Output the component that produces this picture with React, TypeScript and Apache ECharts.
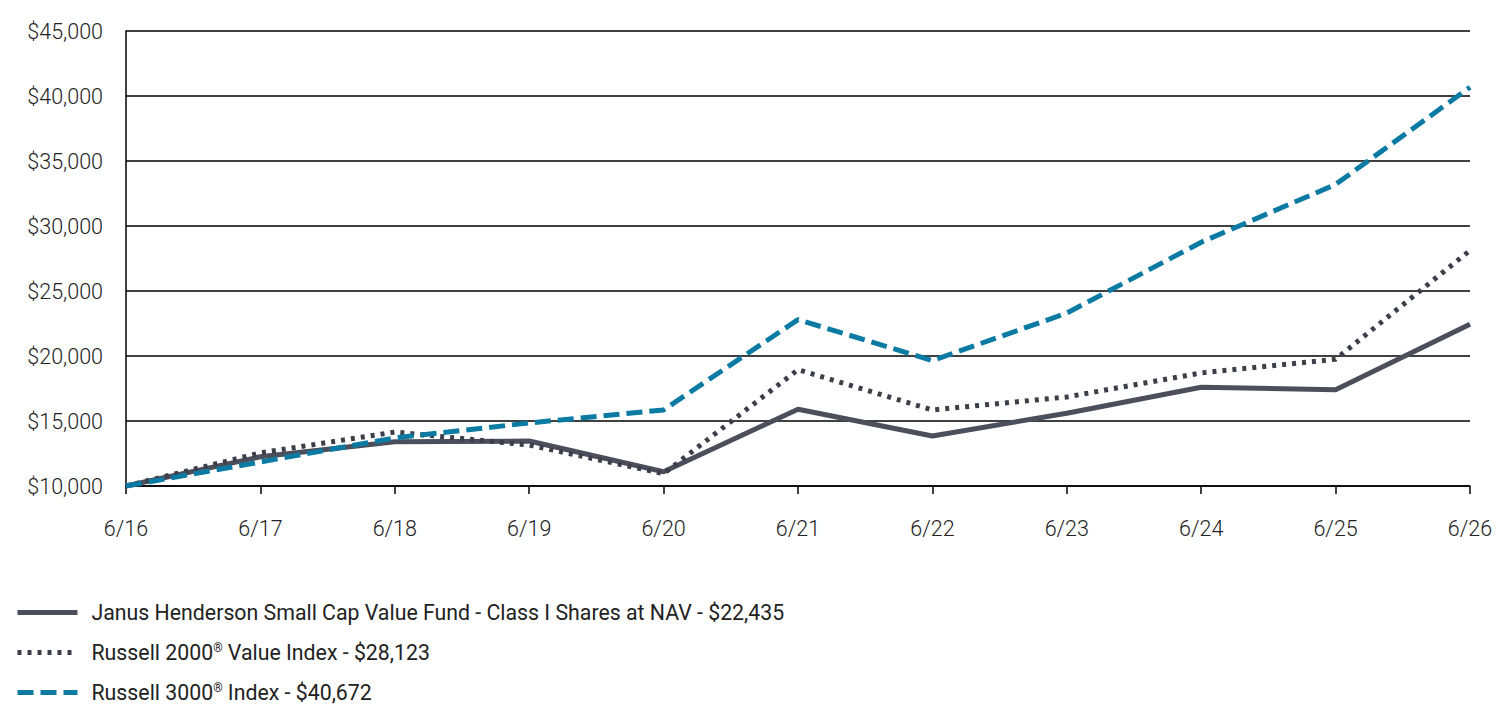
import React, { useEffect, useRef } from "react";
import * as echarts from "echarts";

const categories = ["6/16", "6/17", "6/18", "6/19", "6/20", "6/21", "6/22", "6/23", "6/24", "6/25", "6/26"];
const fundValues = [10000, 12250, 13400, 13460, 11100, 15900, 13850, 15600, 17600, 17400, 22435];
const r2000Values = [10000, 12550, 14150, 13150, 10950, 18950, 15850, 16850, 18700, 19750, 28123];
const r3000Values = [10000, 11850, 13700, 14850, 15850, 22800, 19650, 23300, 28750, 33200, 40672];
const seriesNames = [
  "Janus Henderson Small Cap Value Fund - Class I Shares at NAV - $22,435",
  "Russell 2000® Value Index - $28,123",
  "Russell 3000® Index - $40,672",
];
const legendRowTops = [602, 642, 682];

export default function App() {
  const ref = useRef<HTMLDivElement>(null);
  useEffect(() => {
    document.body.style.margin = "0";
    const chart = echarts.init(ref.current!, null, { renderer: "svg" });
    const font = "Roboto";
    const textColor = "#222222";
    const legends = seriesNames.map((name, i) => ({
      orient: "vertical",
      left: 15,
      top: legendRowTops[i],
      padding: 0,
      itemWidth: 60,
      itemHeight: 20,
      data: [name],
      itemStyle: { opacity: 0 },
      lineStyle: { width: 5 },
      formatter: (n: string) => n.replace(/®/g, "{sup|®}"),
      textStyle: {
        fontFamily: font,
        fontSize: 21.3,
        fontWeight: 400,
        color: textColor,
        padding: [0, 0, 0, 9],
        rich: {
          sup: { fontSize: 12, verticalAlign: "top", padding: [0, 0, 9, 0], color: textColor, fontFamily: font },
        },
      },
    }));
    chart.setOption({
      animation: false,
      backgroundColor: "#ffffff",
      textStyle: { fontFamily: font },
      grid: { left: 126, right: 42, top: 31, bottom: 222, containLabel: false },
      legend: legends,
      xAxis: {
        type: "category",
        data: categories,
        boundaryGap: false,
        axisLine: { show: true, lineStyle: { color: "#000", width: 1.5 } },
        axisTick: { show: true, alignWithLabel: true, length: 8, lineStyle: { color: "#000", width: 1.5 } },
        axisLabel: { fontFamily: font, fontSize: 21.5, fontWeight: 300, color: textColor, margin: 31 },
        splitLine: { show: false },
      },
      yAxis: {
        type: "value",
        min: 10000,
        max: 45000,
        interval: 5000,
        axisLine: { show: true, lineStyle: { color: "#000", width: 1.5 } },
        axisTick: { show: false },
        axisLabel: {
          fontFamily: font,
          fontSize: 21.5,
          fontWeight: 300,
          color: textColor,
          margin: 23,
          formatter: (v: number) => "$" + v.toLocaleString("en-US"),
        },
        splitLine: { show: true, lineStyle: { color: "#000", width: 1.5 } },
      },
      series: [
        {
          name: seriesNames[0],
          type: "line",
          data: fundValues,
          showSymbol: false,
          symbol: "none",
          z: 3,
          lineStyle: { color: "#4b4e5b", width: 5, type: "solid" },
          itemStyle: { color: "#4b4e5b" },
        },
        {
          name: seriesNames[1],
          type: "line",
          data: r2000Values,
          showSymbol: false,
          symbol: "none",
          z: 4,
          lineStyle: { color: "#3c3e4a", width: 5, type: [4, 6] },
          itemStyle: { color: "#3c3e4a" },
        },
        {
          name: seriesNames[2],
          type: "line",
          data: r3000Values,
          showSymbol: false,
          symbol: "none",
          z: 5,
          lineStyle: { color: "#0b7ba3", width: 5, type: [16, 7] },
          itemStyle: { color: "#0b7ba3" },
        },
      ],
    });
    return () => chart.dispose();
  }, []);
  return <div ref={ref} style={{ width: 1512, height: 708 }} />;
}
